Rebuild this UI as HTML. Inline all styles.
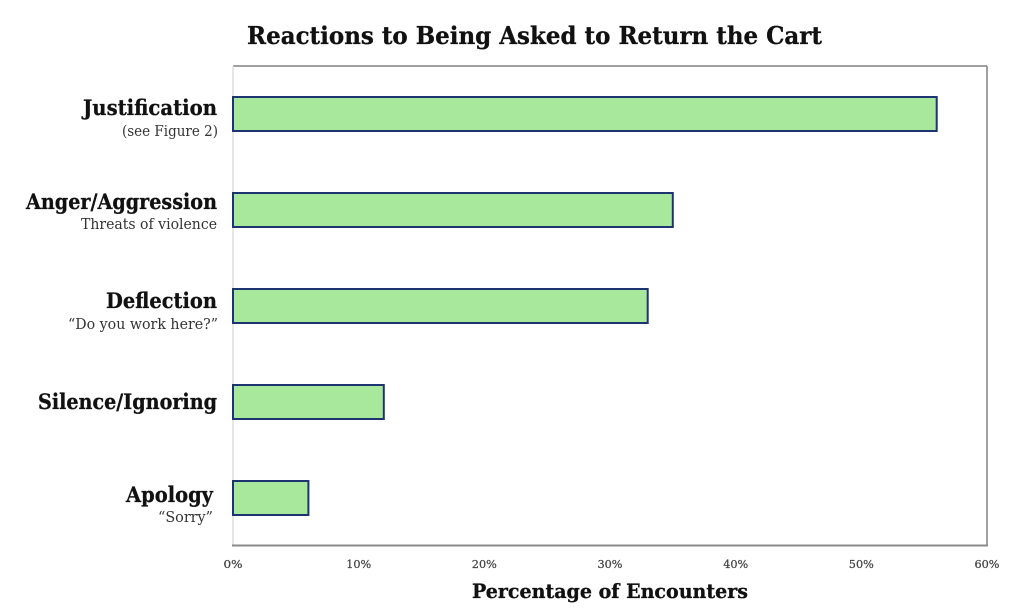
<!DOCTYPE html>
<html>
<head>
<meta charset="utf-8">
<style>
  html, body { margin: 0; padding: 0; background: #ffffff; }
  svg { display: block; }
  text { font-family: "DejaVu Serif", "Liberation Serif", serif; }
</style>
</head>
<body>
<svg width="1024" height="609" viewBox="0 0 1024 609" xmlns="http://www.w3.org/2000/svg">
  <rect x="0" y="0" width="1024" height="609" fill="#ffffff"/>

  <!-- Title -->
  <text x="247" y="44" font-size="24" font-weight="bold" fill="#111" stroke="#111" stroke-width="0.3" textLength="575" lengthAdjust="spacingAndGlyphs">Reactions to Being Asked to Return the Cart</text>

  <!-- Spines -->
  <line x1="233" y1="66" x2="987" y2="66" stroke="#808080" stroke-width="1.5"/>
  <line x1="987" y1="66" x2="987" y2="546" stroke="#808080" stroke-width="1.5"/>
  <line x1="233" y1="66" x2="233" y2="546" stroke="#dddddd" stroke-width="1.5"/>
  <line x1="232" y1="545.5" x2="988" y2="545.5" stroke="#8a8a8a" stroke-width="2"/>

  <!-- Bars -->
  <g fill="#a8e89c" stroke="#1c3470" stroke-width="2">
    <rect x="233" y="97" width="703.7" height="34"/>
    <rect x="233" y="193" width="439.8" height="34"/>
    <rect x="233" y="289" width="414.7" height="34"/>
    <rect x="233" y="385" width="150.8" height="34"/>
    <rect x="233" y="481" width="75.4" height="34"/>
  </g>

  <!-- Category labels -->
  <g text-anchor="end" fill="#111">
    <text x="217" y="115" font-size="21" font-weight="bold" stroke="#111" stroke-width="0.3" textLength="134" lengthAdjust="spacingAndGlyphs">Justification</text>
    <text x="218" y="136" font-size="14.5" fill="#333" textLength="96" lengthAdjust="spacingAndGlyphs">(see Figure 2)</text>

    <text x="217" y="209" font-size="21" font-weight="bold" stroke="#111" stroke-width="0.3" textLength="191" lengthAdjust="spacingAndGlyphs">Anger/Aggression</text>
    <text x="217" y="229" font-size="14.5" fill="#333" textLength="136" lengthAdjust="spacingAndGlyphs">Threats of violence</text>

    <text x="217" y="308" font-size="21" font-weight="bold" stroke="#111" stroke-width="0.3" textLength="111" lengthAdjust="spacingAndGlyphs">Deflection</text>
    <text x="218" y="329" font-size="14.5" fill="#333" textLength="150" lengthAdjust="spacingAndGlyphs">“Do you work here?”</text>

    <text x="217" y="409" font-size="21" font-weight="bold" stroke="#111" stroke-width="0.3" textLength="179" lengthAdjust="spacingAndGlyphs">Silence/Ignoring</text>

    <text x="213" y="502" font-size="21" font-weight="bold" stroke="#111" stroke-width="0.3" textLength="87" lengthAdjust="spacingAndGlyphs">Apology</text>
    <text x="213" y="522" font-size="14.5" fill="#333" textLength="55" lengthAdjust="spacingAndGlyphs">“Sorry”</text>
  </g>

  <!-- Tick labels -->
  <g text-anchor="middle" font-size="11.5" fill="#444" stroke="#444" stroke-width="0.25">
    <text x="233" y="568" textLength="19" lengthAdjust="spacingAndGlyphs">0%</text>
    <text x="358.7" y="568" textLength="25" lengthAdjust="spacingAndGlyphs">10%</text>
    <text x="484.3" y="568" textLength="25" lengthAdjust="spacingAndGlyphs">20%</text>
    <text x="610" y="568" textLength="25" lengthAdjust="spacingAndGlyphs">30%</text>
    <text x="735.7" y="568" textLength="25" lengthAdjust="spacingAndGlyphs">40%</text>
    <text x="861.3" y="568" textLength="25" lengthAdjust="spacingAndGlyphs">50%</text>
    <text x="987" y="568" textLength="25" lengthAdjust="spacingAndGlyphs">60%</text>
  </g>

  <!-- X axis title -->
  <text x="472" y="598" font-size="20" font-weight="bold" fill="#111" stroke="#111" stroke-width="0.3" textLength="276" lengthAdjust="spacingAndGlyphs">Percentage of Encounters</text>
</svg>
</body>
</html>
